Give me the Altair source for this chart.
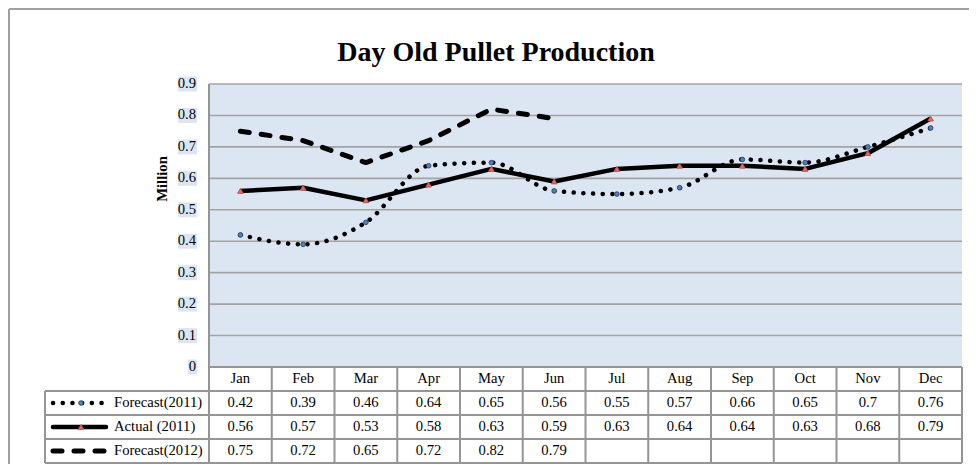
import altair as alt
import pandas as pd

# ---------------- data ----------------
months = ["Jan", "Feb", "Mar", "Apr", "May", "Jun", "Jul", "Aug", "Sep", "Oct", "Nov", "Dec"]
forecast_2011 = [0.42, 0.39, 0.46, 0.64, 0.65, 0.56, 0.55, 0.57, 0.66, 0.65, 0.70, 0.76]
actual_2011 = [0.56, 0.57, 0.53, 0.58, 0.63, 0.59, 0.63, 0.64, 0.64, 0.63, 0.68, 0.79]
forecast_2012 = [0.75, 0.72, 0.65, 0.72, 0.82, 0.79]
series_names = ["Forecast(2011)", "Actual (2011)", "Forecast(2012)"]
y_ticks = [0.0, 0.1, 0.2, 0.3, 0.4, 0.5, 0.6, 0.7, 0.8, 0.9]
y_tick_labels = ["0", "0.1", "0.2", "0.3", "0.4", "0.5", "0.6", "0.7", "0.8", "0.9"]
title_text = "Day Old Pullet Production"
y_title = "Million"

# ---------------- layout (page pixels) ----------------
LEFT_PX, PLOT_L, PLOT_R = 45, 209, 962
PLOT_T, PLOT_B = 84, 367
ROW_PX, N_ROWS = 24, 4
YMAX = 0.9
COL_PX = (PLOT_R - PLOT_L) / len(months)
KY = YMAX / (PLOT_B - PLOT_T)
TABLE_B = PLOT_B + ROW_PX * N_ROWS


def px_x(px):
    return (px - PLOT_L) / COL_PX


def px_y(py):
    return (PLOT_B - py) * KY


XD = [px_x(LEFT_PX), float(len(months))]
YD = [px_y(TABLE_B), YMAX]
W = PLOT_R - LEFT_PX
H = TABLE_B - PLOT_T

FONT = "Liberation Serif"
FS = 14.67
GRID = "#A3A3A3"
BORDER = "#959595"
BG = "#DCE6F2"


def X(f="x"):
    return alt.X(f"{f}:Q", scale=alt.Scale(domain=XD, nice=False, zero=False), axis=None)


def Y(f="y"):
    return alt.Y(f"{f}:Q", scale=alt.Scale(domain=YD, nice=False, zero=False), axis=None)


def row_center(r):
    return px_y(PLOT_B + ROW_PX * (r + 0.5))


def row_top(r):
    return px_y(PLOT_B + ROW_PX * r)


# ---------------- background & grid ----------------
bg = alt.Chart(pd.DataFrame({"x": [0.0], "x2": [12.0], "y": [0.0], "y2": [YMAX]})).mark_rect(
    color=BG).encode(x=X(), x2="x2:Q", y=Y(), y2="y2:Q")

grid = alt.Chart(pd.DataFrame({"y": y_ticks[1:], "x": 0.0, "x2": 12.0})).mark_rule(
    color=GRID, strokeWidth=1.6).encode(x=X(), x2="x2:Q", y=Y())

# table borders
h_lines = [{"y": row_top(0), "x": 0.0, "x2": 12.0}]
for r in range(1, N_ROWS + 1):
    h_lines.append({"y": row_top(r), "x": XD[0], "x2": 12.0})
v_lines = [{"x": 0.0, "y": YD[0], "y2": YMAX}]
for c in range(1, len(months) + 1):
    v_lines.append({"x": float(c), "y": YD[0], "y2": 0.0})
v_lines.append({"x": XD[0], "y": YD[0], "y2": row_top(1)})

hb = alt.Chart(pd.DataFrame(h_lines)).mark_rule(color=BORDER, strokeWidth=2).encode(
    x=X(), x2="x2:Q", y=Y())
vb = alt.Chart(pd.DataFrame(v_lines)).mark_rule(color=BORDER, strokeWidth=2).encode(
    x=X(), y=Y(), y2="y2:Q")

# outer frame (top and left edges)
frame = alt.Chart(pd.DataFrame([
    {"x": px_x(9), "x2": px_x(990), "y": px_y(9), "y2": px_y(9)},
    {"x": px_x(9), "x2": px_x(9), "y": px_y(9), "y2": px_y(490)},
])).mark_rule(color="#A0A0A0", strokeWidth=2).encode(x=X(), x2="x2:Q", y=Y(), y2="y2:Q")

# chart title
title = alt.Chart(pd.DataFrame({"x": [px_x(496)], "y": [px_y(61)], "t": [title_text]})).mark_text(
    font=FONT, fontSize=28, fontWeight="bold", align="center", baseline="alphabetic",
    color="black").encode(x=X(), y=Y(), text="t:N")

# y tick labels with their light highlight boxes
lab_right = px_x(197)
tick_df = pd.DataFrame({"y": y_ticks, "label": y_tick_labels})
tick_df["xr"] = lab_right
tick_df["xl"] = [px_x(197 - (9 if len(s) == 1 else 19)) for s in y_tick_labels]
tick_df["yt"] = tick_df["y"] + 7.5 * KY
tick_df["yb"] = tick_df["y"] - 7.5 * KY
tick_bg = alt.Chart(tick_df).mark_rect(color=BG).encode(
    x=X("xl"), x2="xr:Q", y=Y("yb"), y2="yt:Q")
tick_txt = alt.Chart(tick_df).mark_text(
    font=FONT, fontSize=FS, align="right", baseline="middle", dx=-1).encode(
    x=X("xr"), y=Y(), text="label:N")

ytitle = alt.Chart(pd.DataFrame({"x": [px_x(163)], "y": [px_y(179)], "t": [y_title]})).mark_text(
    font=FONT, fontSize=FS, fontWeight="bold", angle=270, baseline="middle", align="center").encode(
    x=X(), y=Y(), text="t:N")

# ---------------- series ----------------
rows = []
for name, vals in zip(series_names, [forecast_2011, actual_2011, forecast_2012]):
    for i, v in enumerate(vals):
        rows.append({"series": name, "month": months[i], "x": i + 0.5, "y": v})
df = pd.DataFrame(rows)

f11_line = alt.Chart(df).transform_filter(alt.datum.series == series_names[0]).mark_line(
    color="black", strokeWidth=4.5, strokeDash=[0.1, 9.6], strokeCap="round",
    interpolate="monotone").encode(x=X(), y=Y())
act_line = alt.Chart(df).transform_filter(alt.datum.series == series_names[1]).mark_line(
    color="black", strokeWidth=4.5, strokeJoin="round").encode(x=X(), y=Y())
f12_line = alt.Chart(df).transform_filter(alt.datum.series == series_names[2]).mark_line(
    color="black", strokeWidth=5, strokeDash=[9, 12], strokeCap="round",
    strokeJoin="round").encode(x=X(), y=Y())

f11_pts = alt.Chart(df).transform_filter(alt.datum.series == series_names[0]).mark_point(
    shape="circle", filled=True, size=22, color="#4F81BD", stroke="#1F3864", strokeWidth=0.8,
    opacity=1).encode(x=X(), y=Y())
act_pts = alt.Chart(df).transform_filter(alt.datum.series == series_names[1]).mark_point(
    shape="triangle-up", filled=True, size=30, color="#E0706C", stroke="#C0504D", strokeWidth=1,
    opacity=1).encode(x=X(), y=Y())

# ---------------- data table ----------------
hdr = pd.DataFrame({"x": [i + 0.5 for i in range(len(months))], "y": row_center(0), "t": months})
vals_rows = []
for r, vals in enumerate([forecast_2011, actual_2011, forecast_2012], start=1):
    for i, v in enumerate(vals):
        vals_rows.append({"x": i + 0.5, "y": row_center(r), "t": f"{v:g}"})
cells = pd.concat([hdr, pd.DataFrame(vals_rows)], ignore_index=True)
cell_txt = alt.Chart(cells).mark_text(font=FONT, fontSize=FS, baseline="middle", align="center").encode(
    x=X(), y=Y(), text="t:N")

leg = pd.DataFrame({"x": px_x(114), "y": [row_center(r) for r in (1, 2, 3)], "t": series_names,
                    "s0": px_x(53), "s1": px_x(106), "m": px_x(81)})
leg_txt = alt.Chart(leg).mark_text(font=FONT, fontSize=FS, baseline="middle", align="left").encode(
    x=X(), y=Y(), text="t:N")
leg_f11 = alt.Chart(leg.iloc[[0]]).mark_rule(
    color="black", strokeWidth=4.5, strokeDash=[0.1, 9.6], strokeCap="round").encode(
    x=X("s0"), x2="s1:Q", y=Y())
leg_act = alt.Chart(leg.iloc[[1]]).mark_rule(
    color="black", strokeWidth=4.5, strokeCap="round").encode(x=X("s0"), x2="s1:Q", y=Y())
leg_f12 = alt.Chart(leg.iloc[[2]]).mark_rule(
    color="black", strokeWidth=5, strokeDash=[9, 12], strokeCap="round").encode(
    x=X("s0"), x2="s1:Q", y=Y())
leg_p11 = alt.Chart(leg.iloc[[0]]).mark_point(
    shape="circle", filled=True, size=22, color="#4F81BD", stroke="#1F3864", strokeWidth=0.8,
    opacity=1).encode(x=X("m"), y=Y())
leg_pact = alt.Chart(leg.iloc[[1]]).mark_point(
    shape="triangle-up", filled=True, size=30, color="#E0706C", stroke="#C0504D", strokeWidth=1,
    opacity=1).encode(x=X("m"), y=Y())

chart = alt.layer(
    bg, grid, hb, vb, frame, title, tick_bg, tick_txt, ytitle,
    f12_line, act_line, f11_line, f11_pts, act_pts,
    cell_txt, leg_txt, leg_f11, leg_act, leg_f12, leg_p11, leg_pact,
).properties(
    width=W, height=H,
    autosize=alt.AutoSizeParams(type="none"),
    padding={"left": LEFT_PX - 8, "top": PLOT_T - 8, "right": 969 - PLOT_R, "bottom": 464 - TABLE_B},
    background="white",
).configure_view(stroke=None)

chart.save("out.html", embed_options={"renderer": "svg", "actions": False})
